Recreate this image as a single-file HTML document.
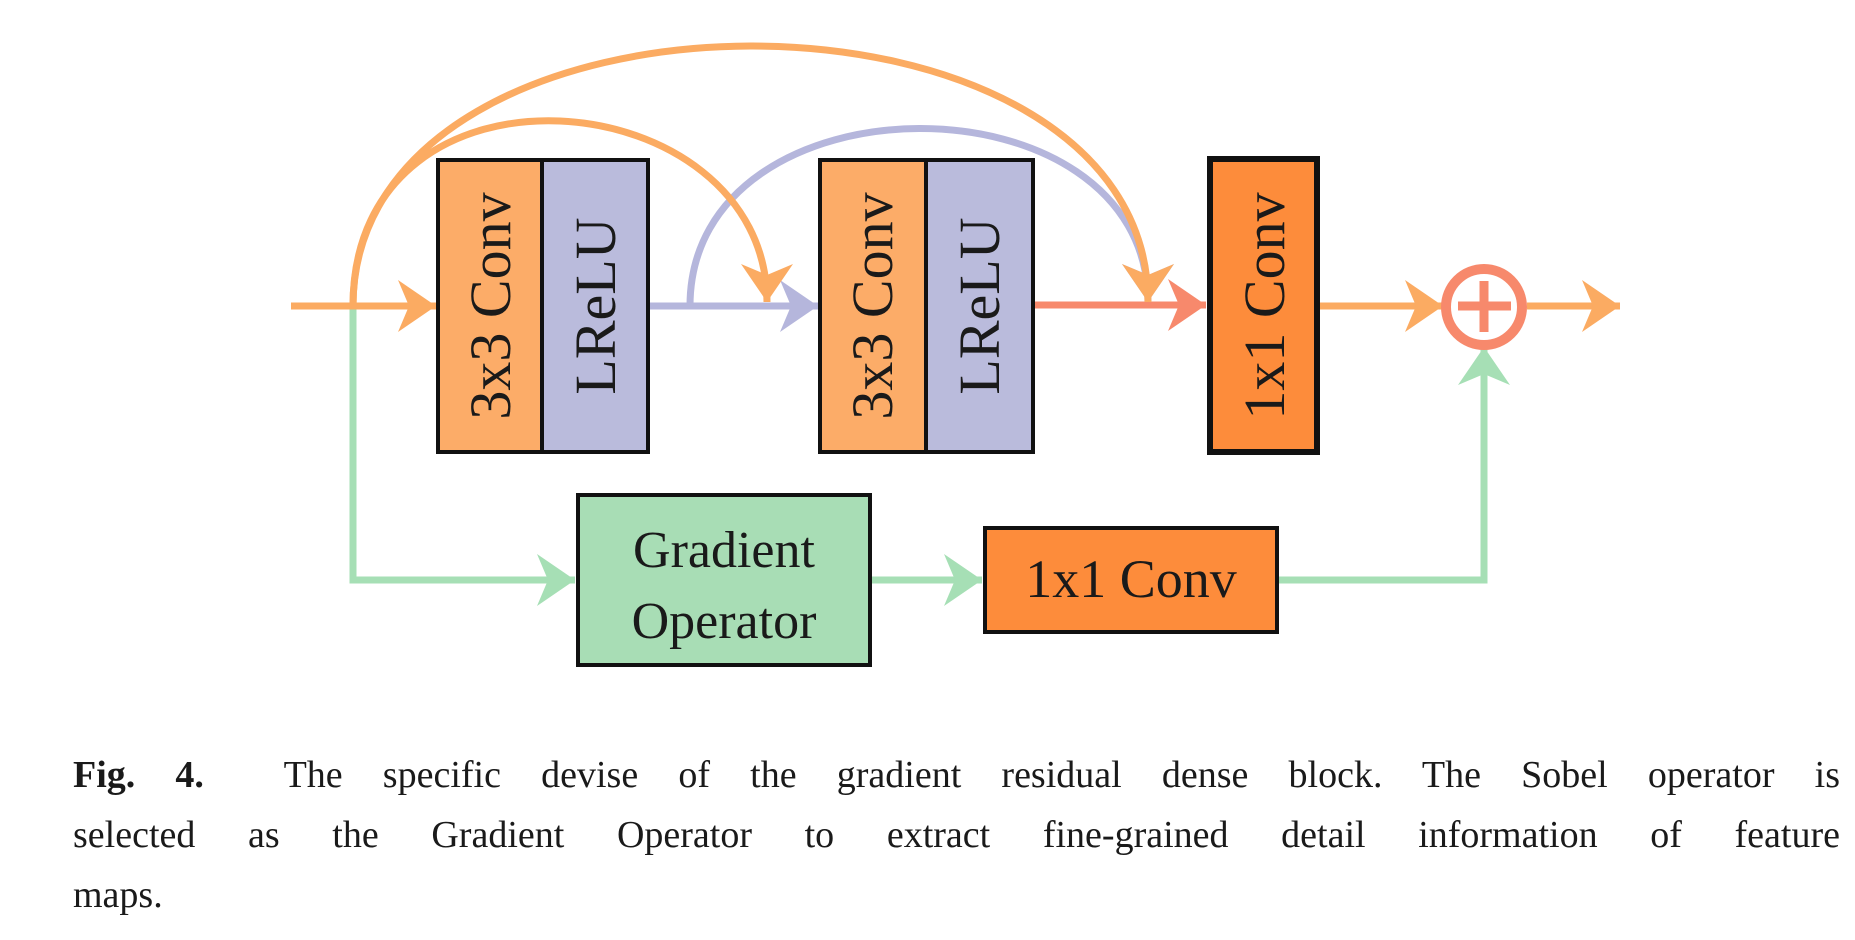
<!DOCTYPE html>
<html><head><meta charset="utf-8"><style>
html,body{margin:0;padding:0;background:#fff;width:1855px;height:940px;overflow:hidden}
.cap{position:absolute;left:73px;width:1767px;font-family:"Liberation Serif",serif;font-size:38px;line-height:60px;color:#1a1a1a;text-align:justify;text-align-last:justify;white-space:nowrap}
.cap.last{text-align-last:left}
</style></head><body>
<svg width="1855" height="740" style="position:absolute;left:0;top:0" xmlns="http://www.w3.org/2000/svg">
<defs>
<marker id="ao" markerUnits="userSpaceOnUse" markerWidth="42" markerHeight="52" refX="38" refY="26" orient="auto"><path d="M0,0 L38,26 L0,52 L11,26 Z" fill="#fbab62"/></marker>
<marker id="ap" markerUnits="userSpaceOnUse" markerWidth="42" markerHeight="52" refX="38" refY="26" orient="auto"><path d="M0,0 L38,26 L0,52 L11,26 Z" fill="#b5b6dc"/></marker>
<marker id="ar" markerUnits="userSpaceOnUse" markerWidth="42" markerHeight="52" refX="38" refY="26" orient="auto"><path d="M0,0 L38,26 L0,52 L11,26 Z" fill="#f7896c"/></marker>
<marker id="ag" markerUnits="userSpaceOnUse" markerWidth="42" markerHeight="52" refX="38" refY="26" orient="auto"><path d="M0,0 L38,26 L0,52 L11,26 Z" fill="#a6dfb5"/></marker>
</defs>
<g fill="none" stroke-width="7">
<path d="M353,306 L353,580 L575,580" stroke="#a6dfb5" marker-end="url(#ag)"/>
<path d="M871,580 L982,580" stroke="#a6dfb5" marker-end="url(#ag)"/>
<path d="M1278,580 L1484,580 L1484,347" stroke="#a6dfb5" marker-end="url(#ag)"/>
<path d="M291,306 L436,306" stroke="#fbab62" marker-end="url(#ao)"/>
<path d="M648,306 L818,306" stroke="#b5b6dc" marker-end="url(#ap)"/>
<path d="M1033,305 L1206,305" stroke="#f7896c" marker-end="url(#ar)"/>
<path d="M1319,306 L1443,306" stroke="#fbab62" marker-end="url(#ao)"/>
<path d="M1527,306 L1620,306" stroke="#fbab62" marker-end="url(#ao)"/>
<path d="M690,306 C690,70 1148,70 1148,302" stroke="#b5b6dc" marker-end="url(#ap)"/>
<path d="M353,306 C353,40 767,80 767,302" stroke="#fbab62" marker-end="url(#ao)"/>
<path d="M353,306 C353,-40 1148,-40 1148,302" stroke="#fbab62" marker-end="url(#ao)"/>
</g>
<g stroke="#111" stroke-width="4">
<rect x="438" y="160" width="104" height="292" fill="#fcac68"/>
<rect x="542" y="160" width="106" height="292" fill="#babbdc"/>
<rect x="820" y="160" width="106" height="292" fill="#fcac68"/>
<rect x="926" y="160" width="107" height="292" fill="#babbdc"/>
<rect x="1210" y="159" width="107" height="293" fill="#fd8c3b" stroke-width="6"/>
<rect x="578" y="495" width="292" height="170" fill="#a8ddb5"/>
<rect x="985" y="528" width="292" height="104" fill="#fd8c3b"/>
</g>
<circle cx="1484" cy="307" r="38" fill="#fff" stroke="#f7896c" stroke-width="10"/>
<path d="M1484,281 V332 M1458,306 H1511" stroke="#f7896c" stroke-width="9"/>
<g font-family="Liberation Serif, serif" font-size="58" fill="#1a1a1a" text-anchor="middle">
<text transform="translate(510,306) rotate(-90)">3x3 Conv</text>
<text transform="translate(615,306) rotate(-90)">LReLU</text>
<text transform="translate(892,306) rotate(-90)">3x3 Conv</text>
<text transform="translate(999,306) rotate(-90)">LReLU</text>
<text transform="translate(1284,306) rotate(-90)">1x1 Conv</text>
<text x="724" y="567" font-size="52">Gradient</text>
<text x="724" y="638" font-size="52">Operator</text>
<text x="1131" y="597" font-size="54">1x1 Conv</text>
</g>
</svg>
<div class="cap" style="top:745px"><b>Fig. 4.</b>&nbsp; The specific devise of the gradient residual dense block. The Sobel operator is</div>
<div class="cap" style="top:805px">selected as the Gradient Operator to extract fine-grained detail information of feature</div>
<div class="cap last" style="top:865px">maps.</div>
</body></html>
